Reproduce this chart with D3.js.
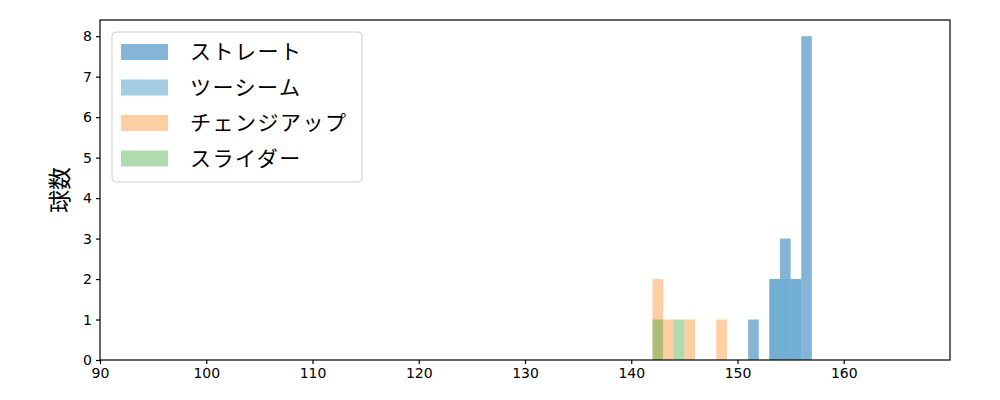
<!DOCTYPE html>
<meta charset="utf-8">
<style>
  body { margin: 0; background: #fff; }
  text { font-family: "Noto Sans CJK JP", "DejaVu Sans", sans-serif; fill: #000; }
  .tick text { font-family: "DejaVu Sans", sans-serif; }
  .domain, .tick line { stroke: #000; }
</style>
<svg id="chart" width="1000" height="400"></svg>
<script src="https://cdnjs.cloudflare.com/ajax/libs/d3/7.8.5/d3.min.js"></script>
<script>
// pitch speed histogram (km/h), bin width 1
var pitchTypes = ["ストレート", "ツーシーム", "チェンジアップ", "スライダー"];
var binWidth = 1;

var straightStart = [151, 153, 154, 155, 156];
var straightCount = [1, 2, 3, 2, 8];

var twoSeamStart = [153, 154, 155];
var twoSeamCount = [2, 2, 2];

var changeStart = [142, 143, 145, 148];
var changeCount = [2, 1, 1, 1];

var sliderStart = [142, 144];
var sliderCount = [1, 1];

var xTicks = [90, 100, 110, 120, 130, 140, 150, 160];
var yTicks = [0, 1, 2, 3, 4, 5, 6, 7, 8];

var colors = ["rgb(31,119,180)", "rgb(104,171,210)", "rgb(255,127,14)", "rgb(44,160,44)"];
var opac = [0.55, 0.6, 0.38, 0.38];

var series = [
  [straightStart, straightCount],
  [twoSeamStart, twoSeamCount],
  [changeStart, changeCount],
  [sliderStart, sliderCount]
];

var margin = {left: 100, right: 50, top: 20, bottom: 40};
var W = 1000, H = 400;
var svg = d3.select("#chart");

var x = d3.scaleLinear().domain([90, 170]).range([margin.left, W - margin.right]);
var y = d3.scaleLinear().domain([0, 8.4]).range([H - margin.bottom, margin.top]);

series.forEach(function(s, i) {
  var rows = s[0].map(function(v, j) { return {lo: v, n: s[1][j]}; });
  svg.append("g").selectAll("rect").data(rows).enter().append("rect")
    .attr("x", function(d) { return x(d.lo); })
    .attr("width", function(d) { return x(d.lo + binWidth) - x(d.lo); })
    .attr("y", function(d) { return y(d.n); })
    .attr("height", function(d) { return y(0) - y(d.n); })
    .attr("fill", colors[i])
    .attr("fill-opacity", opac[i]);
});

// axes
svg.append("g")
  .attr("transform", "translate(0," + (H - margin.bottom) + ")")
  .call(d3.axisBottom(x).tickValues(xTicks).tickSize(4).tickPadding(4))
  .call(function(g) { g.select(".domain").remove(); });
svg.append("g")
  .attr("transform", "translate(" + margin.left + ",0)")
  .call(d3.axisLeft(y).tickValues(yTicks).tickSize(4).tickPadding(4))
  .call(function(g) { g.select(".domain").remove(); });

svg.selectAll(".tick text").attr("font-size", 14);
svg.selectAll(".tick line").attr("stroke-width", 1.2);

// frame
svg.append("rect")
  .attr("x", margin.left).attr("y", margin.top)
  .attr("width", W - margin.left - margin.right)
  .attr("height", H - margin.top - margin.bottom)
  .attr("fill", "none").attr("stroke", "#000").attr("stroke-width", 1.2);

// y label
svg.append("text")
  .attr("transform", "translate(68," + (margin.top + (H - margin.top - margin.bottom) / 2) + ") rotate(-90)")
  .attr("text-anchor", "middle")
  .attr("font-size", 23)
  .text("球数");

// legend
var lg = svg.append("g").attr("transform", "translate(112,32)");
lg.append("rect")
  .attr("width", 250).attr("height", 150).attr("rx", 4)
  .attr("fill", "#fff").attr("fill-opacity", 0.8)
  .attr("stroke", "#d0d0d0");
pitchTypes.forEach(function(name, i) {
  var row = lg.append("g").attr("transform", "translate(0," + (20 + i * 35.5) + ")");
  row.append("rect")
    .attr("x", 9).attr("y", -8).attr("width", 47).attr("height", 16)
    .attr("fill", colors[i]).attr("fill-opacity", opac[i]);
  row.append("text")
    .attr("x", 78).attr("y", 7)
    .attr("font-size", 21)
    .attr("letter-spacing", 1.5)
    .text(name);
});
</script>
